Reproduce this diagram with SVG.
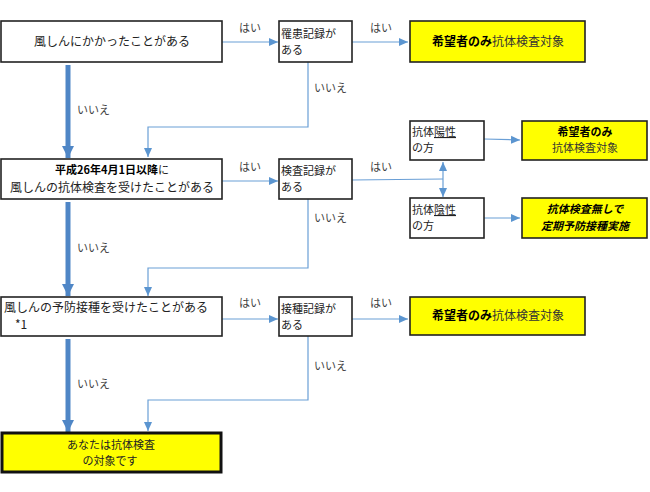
<svg xmlns="http://www.w3.org/2000/svg" width="650" height="492" viewBox="0 0 650 492">
<style>
text{font-family:"Noto Sans CJK JP","Liberation Sans",sans-serif;font-size:12px;fill:#222}
.s{font-size:11px}
.b{font-weight:bold;fill:#000}
.lbl{font-size:11px;fill:#444}
.box{fill:#fff;stroke:#222;stroke-width:1.6}
.ybox{fill:#ffff00;stroke:#222;stroke-width:1.6}
.thin{fill:none;stroke:#6a9fd6;stroke-width:1.2}
.thick{fill:none;stroke:#4f86c6;stroke-width:5}
.yt{fill:#333}
</style>
<defs>
<marker id="ah" markerUnits="userSpaceOnUse" markerWidth="10" markerHeight="10" viewBox="0 0 10 10" refX="9" refY="5" orient="auto"><path d="M0,1 L9,5 L0,9 z" fill="#5b95d0"/></marker>
<marker id="big" markerUnits="userSpaceOnUse" markerWidth="14" markerHeight="14" viewBox="0 0 14 14" refX="12" refY="7" orient="auto"><path d="M0,1 L12,7 L0,13 z" fill="#4f86c6"/></marker>
</defs>

<g id="connectors">
<line class="thick" x1="68" y1="65" x2="68" y2="158" marker-end="url(#big)"/>
<line class="thick" x1="68" y1="202" x2="68" y2="296" marker-end="url(#big)"/>
<line class="thick" x1="68" y1="339" x2="68" y2="432" marker-end="url(#big)"/>
<line class="thin" x1="222" y1="42" x2="278" y2="42" marker-end="url(#ah)"/>
<line class="thin" x1="352" y1="42" x2="408" y2="42" marker-end="url(#ah)"/>
<line class="thin" x1="222" y1="181" x2="278" y2="181" marker-end="url(#ah)"/>
<line class="thin" x1="222" y1="319" x2="278" y2="319" marker-end="url(#ah)"/>
<line class="thin" x1="352" y1="319" x2="408" y2="319" marker-end="url(#ah)"/>
<path class="thin" d="M308,62 V127 H148 V157" marker-end="url(#ah)"/>
<path class="thin" d="M308,199 V268 H148 V296" marker-end="url(#ah)"/>
<path class="thin" d="M308,336 V400 H148 V431" marker-end="url(#ah)"/>
<line class="thin" x1="352" y1="180" x2="443" y2="179"/>
<line class="thin" x1="443" y1="179" x2="443" y2="162" marker-end="url(#ah)"/>
<line class="thin" x1="443" y1="179" x2="443" y2="197" marker-end="url(#ah)"/>
<line class="thin" x1="484" y1="139" x2="520" y2="140" marker-end="url(#ah)"/>
<line class="thin" x1="484" y1="218" x2="520" y2="218" marker-end="url(#ah)"/>
<text class="lbl" x="239" y="32">はい</text>
<text class="lbl" x="370" y="32">はい</text>
<text class="lbl" x="239" y="171">はい</text>
<text class="lbl" x="370" y="171">はい</text>
<text class="lbl" x="239" y="307">はい</text>
<text class="lbl" x="370" y="307">はい</text>
<text class="lbl" x="314" y="92">いいえ</text>
<text class="lbl" x="314" y="222">いいえ</text>
<text class="lbl" x="314" y="370">いいえ</text>
<text class="lbl" x="77" y="114">いいえ</text>
<text class="lbl" x="77" y="252">いいえ</text>
<text class="lbl" x="77" y="388">いいえ</text>
</g>

<g id="q1">
<rect class="box" x="1" y="21" width="221" height="41"/>
<text x="112" y="46" text-anchor="middle">風しんにかかったことがある</text>
</g>
<g id="rec1">
<rect class="box" x="279" y="21" width="73" height="41"/>
<text class="s" x="281" y="38">罹患記録が</text>
<text class="s" x="281" y="54">ある</text>
</g>
<g id="res1">
<rect class="ybox" x="410" y="21" width="175" height="41"/>
<text x="498" y="46" text-anchor="middle"><tspan class="b">希望者のみ</tspan><tspan class="yt">抗体検査対象</tspan></text>
</g>

<g id="q2">
<rect class="box" x="1" y="159" width="221" height="40"/>
<text class="s" x="112" y="174" text-anchor="middle"><tspan class="b">平成26年4月1日以降</tspan>に</text>
<text x="112" y="192" text-anchor="middle">風しんの抗体検査を受けたことがある</text>
</g>
<g id="rec2">
<rect class="box" x="279" y="159" width="73" height="40"/>
<text class="s" x="281" y="175">検査記録が</text>
<text class="s" x="281" y="191">ある</text>
</g>
<g id="pos">
<rect class="box" x="410" y="121" width="74" height="39"/>
<text class="s" x="412" y="136">抗体<tspan text-decoration="underline">陽性</tspan></text>
<text class="s" x="412" y="152">の方</text>
</g>
<g id="neg">
<rect class="box" x="410" y="198" width="74" height="40"/>
<text class="s" x="412" y="214">抗体<tspan text-decoration="underline">陰性</tspan></text>
<text class="s" x="412" y="230">の方</text>
</g>
<g id="res2">
<rect class="ybox" x="522" y="121" width="125" height="39"/>
<text class="s b" x="585" y="136" text-anchor="middle">希望者のみ</text>
<text class="s yt" x="585" y="152" text-anchor="middle">抗体検査対象</text>
</g>
<g id="res3">
<rect class="ybox" x="522" y="198" width="125" height="40"/>
<text class="s b" x="585" y="213" text-anchor="middle" font-style="italic">抗体検査無しで</text>
<text class="s b" x="585" y="230" text-anchor="middle" font-style="italic">定期予防接種実施</text>
</g>

<g id="q3">
<rect class="box" x="1" y="297" width="221" height="39"/>
<text x="4" y="312">風しんの予防接種を受けたことがある</text>
<text x="15" y="329" font-size="10">*1</text>
</g>
<g id="rec3">
<rect class="box" x="279" y="297" width="73" height="39"/>
<text class="s" x="281" y="313">接種記録が</text>
<text class="s" x="281" y="329">ある</text>
</g>
<g id="res4">
<rect class="ybox" x="410" y="297" width="175" height="38"/>
<text x="498" y="320" text-anchor="middle"><tspan class="b">希望者のみ</tspan><tspan class="yt">抗体検査対象</tspan></text>
</g>

<g id="final">
<rect x="2" y="433" width="219" height="39" fill="#ffff00" stroke="#111" stroke-width="3"/>
<text class="s" x="111" y="449" text-anchor="middle" fill="#222">あなたは抗体検査</text>
<text class="s" x="110" y="465" text-anchor="middle" fill="#222">の対象です</text>
</g>
</svg>
